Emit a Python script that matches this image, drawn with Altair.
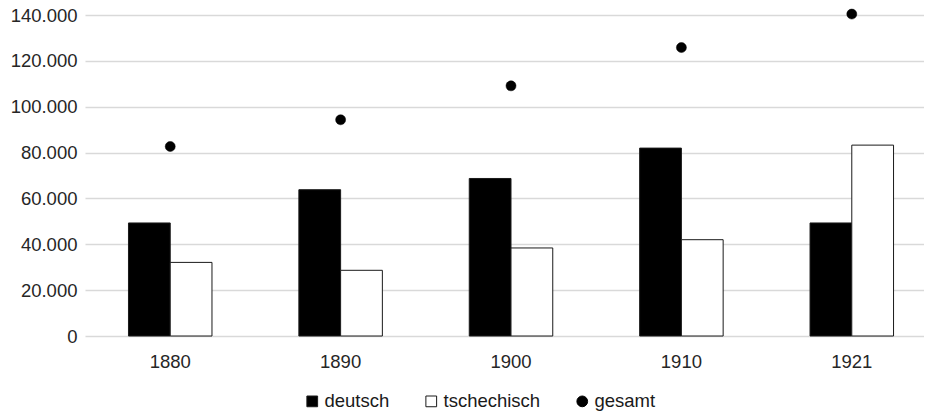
import altair as alt
import pandas as pd

years = ["1880", "1890", "1900", "1910", "1921"]
deutsch = [49300, 63800, 68700, 81950, 49300]
tschechisch = [32100, 28650, 38400, 42000, 83250]
gesamt = [82650, 94300, 109100, 125800, 140400]
series = ["deutsch", "tschechisch", "gesamt"]
y_ticks = [0, 20000, 40000, 60000, 80000, 100000, 120000, 140000]

bars_df = pd.DataFrame(
    [{"Jahr": y, "Serie": "deutsch", "Wert": v} for y, v in zip(years, deutsch)]
    + [{"Jahr": y, "Serie": "tschechisch", "Wert": v} for y, v in zip(years, tschechisch)]
)
pts_df = pd.DataFrame({"Jahr": years, "Serie": ["gesamt"] * len(years), "Wert": gesamt})

FONT = "Liberation Sans"

x_enc = alt.X(
    "Jahr:N",
    sort=years,
    title=None,
    scale=alt.Scale(paddingInner=0.51, paddingOuter=0.217, align=0.588),
    axis=alt.Axis(labelAngle=0, domain=False, ticks=False, labelPadding=16, grid=False),
)
y_enc = alt.Y(
    "Wert:Q",
    title=None,
    scale=alt.Scale(domain=[0, 140000], nice=False),
    axis=alt.Axis(
        values=y_ticks,
        domain=False,
        ticks=False,
        labelPadding=8,
        labelExpr="replace(format(datum.value, ','), ',', '.')",
        grid=True,
    ),
)
fill_scale = alt.Scale(domain=series, range=["#000000", "#ffffff", "#000000"])
stroke_scale = alt.Scale(domain=series, range=["#1a1a1a", "#1a1a1a", "#000000"])
shape_scale = alt.Scale(domain=series, range=["square", "square", "circle"])

legend = alt.Legend(orient="none", legendX=218, legendY=377, direction="horizontal")

bars = alt.Chart(bars_df).mark_bar(strokeWidth=1).encode(
    x=x_enc,
    y=y_enc,
    xOffset=alt.XOffset("Serie:N", sort=["deutsch", "tschechisch"], scale=alt.Scale(paddingInner=0, paddingOuter=0)),
    fill=alt.Fill("Serie:N", scale=fill_scale, title=None, legend=legend),
    stroke=alt.Stroke("Serie:N", scale=stroke_scale, title=None, legend=legend),
)

points = alt.Chart(pts_df).mark_point(filled=True, size=100, opacity=1, strokeWidth=0.5).encode(
    x=x_enc,
    y=y_enc,
    fill=alt.Fill("Serie:N", scale=fill_scale, title=None, legend=legend),
    stroke=alt.Stroke("Serie:N", scale=stroke_scale, title=None, legend=legend),
    shape=alt.Shape("Serie:N", scale=shape_scale, title=None, legend=legend),
)

chart = (
    alt.layer(bars, points)
    .properties(
        width=839,
        height=321,
        autosize=alt.AutoSizeParams(type="none"),
        padding={"left": 77, "top": 7, "right": 0, "bottom": 77},
    )
    .configure_view(stroke=None)
    .configure_axis(
        labelFont=FONT,
        labelFontSize=18.5,
        labelColor="#262626",
        gridColor="#d9d9d9",
        gridWidth=1.5,
    )
    .configure_legend(
        labelFont=FONT,
        labelFontSize=18.5,
        labelColor="#1a1a1a",
        symbolSize=115,
        symbolStrokeWidth=1,
        symbolOpacity=1,
        labelOffset=3,
        columnPadding=32,
        padding=0,
    )
)

chart.save("out.html", embed_options={"renderer": "svg", "actions": False})
